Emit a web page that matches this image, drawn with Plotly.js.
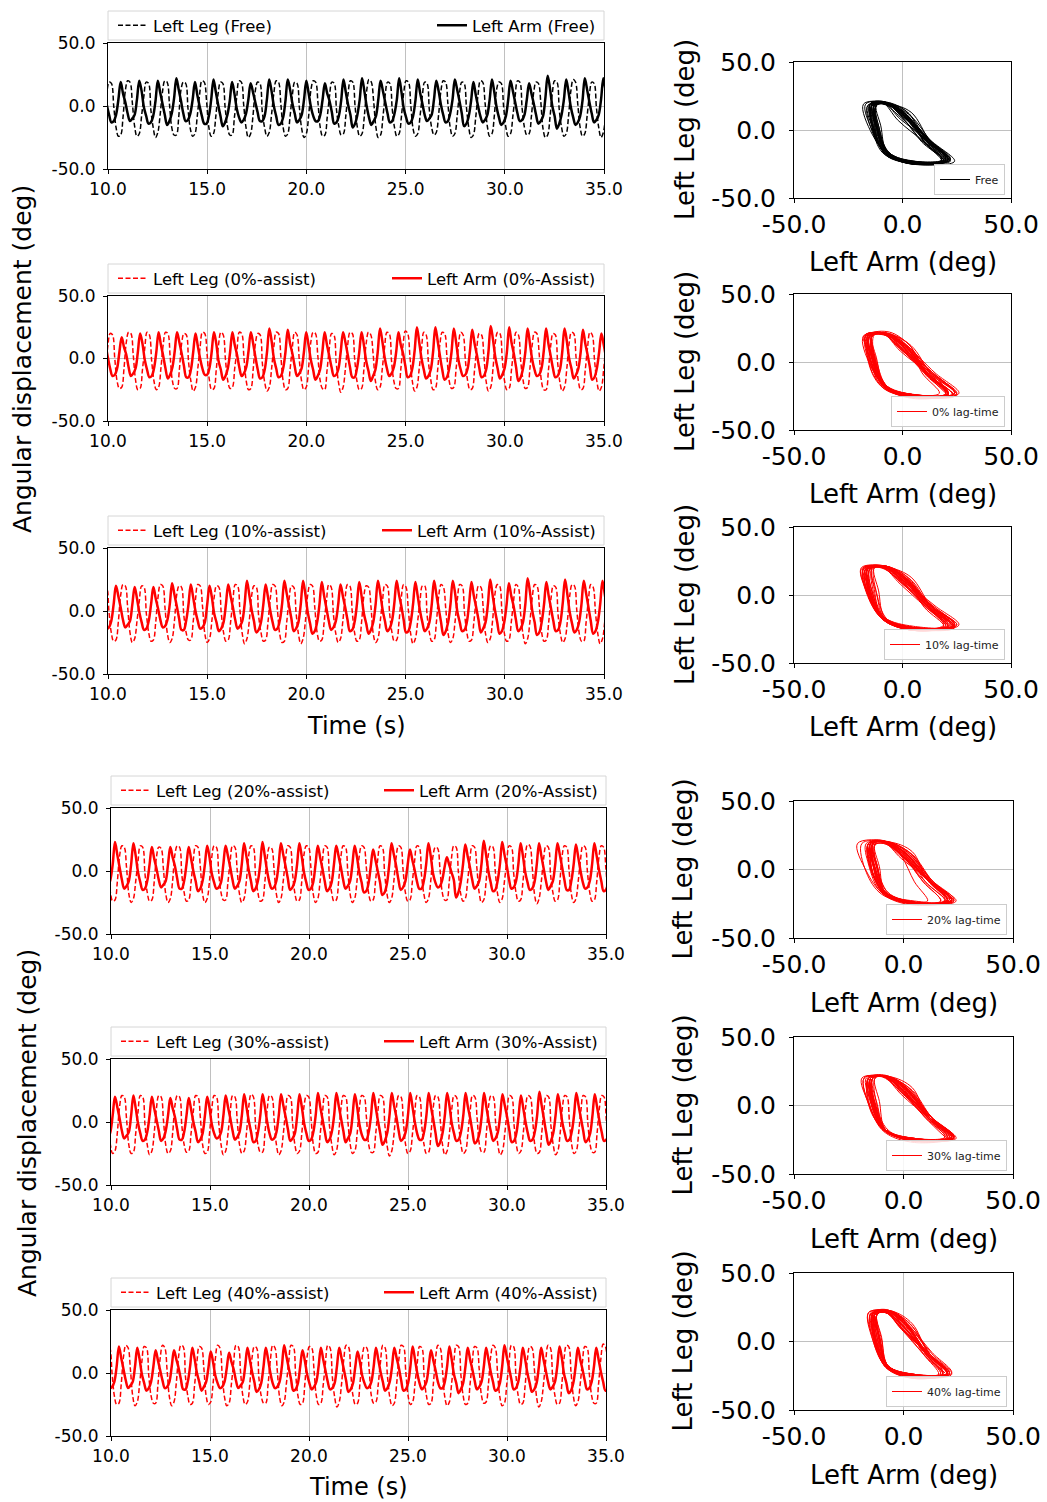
<!DOCTYPE html>
<html><head><meta charset="utf-8">
<script src="https://cdn.plot.ly/plotly-3.0.1.min.js"></script>
<style>body{margin:0;background:#fff}</style>
</head><body><div id="chart" style="width:1047px;height:1502px"></div>
<script>
// ---------------- DATA ----------------
const conditions = ['Free', '0%', '10%', '20%', '30%', '40%'];
const legLegendNames = ['Left Leg (Free)', 'Left Leg (0%-assist)', 'Left Leg (10%-assist)', 'Left Leg (20%-assist)', 'Left Leg (30%-assist)', 'Left Leg (40%-assist)'];
const armLegendNames = ['Left Arm (Free)', 'Left Arm (0%-Assist)', 'Left Arm (10%-Assist)', 'Left Arm (20%-Assist)', 'Left Arm (30%-Assist)', 'Left Arm (40%-Assist)'];
const phaseLegendNames = ['Free', '0% lag-time', '10% lag-time', '20% lag-time', '30% lag-time', '40% lag-time'];
const seriesColors = ['#000000', '#ff0000', '#ff0000', '#ff0000', '#ff0000', '#ff0000'];
// sampling of each recording (s): first sample time and sample interval
const startTimes = [9.704, 9.76, 9.457, 9.27, 9.268, 9.473];
const sampleSteps = [0.11696, 0.11625, 0.1179, 0.1164, 0.1165, 0.1159];
const timeTicks = [10, 15, 20, 25, 30, 35];
const timeTickText = ['10.0', '15.0', '20.0', '25.0', '30.0', '35.0'];
const angleTicks = [-50, 0, 50];
const angleTickText = ['-50.0', '0.0', '50.0'];

// Left arm angle (deg), Free
const armFree = [
20,11,1,-7,-13,-12,-7,5,
19,10,3,-6,-12,-10,-7,5,
20,12,-1,-8,-14,-13,-8,4,
20,11,2,-7,-15,-12,-6,6,
22,13,4,-6,-12,-11,-6,5,
19,9,0,-8,-14,-14,-8,5,
21,11,1,-8,-16,-13,-7,4,
19,10,-2,-9,-13,-11,-6,5,
18,11,3,-5,-12,-12,-8,5,
21,12,0,-8,-15,-14,-9,4,
21,13,2,-6,-13,-11,-7,5,
20,10,-1,-8,-12,-12,-7,5,
18,10,4,-5,-14,-13,-8,4,
21,11,1,-7,-17,-14,-7,5,
22,12,0,-9,-15,-12,-8,5,
20,12,3,-6,-13,-12,-6,5,
22,11,-2,-9,-14,-13,-8,4,
21,11,2,-7,-12,-10,-7,5,
20,12,1,-7,-13,-12,-6,5,
21,13,4,-6,-16,-14,-8,4,
19,9,0,-8,-13,-11,-7,5,
21,11,-1,-9,-15,-13,-8,5,
20,12,3,-6,-12,-11,-7,5,
18,10,2,-7,-14,-12,-8,6,
24,14,0,-8,-18,-14,-7,5,
21,11,-1,-9,-15,-13,-8,4,
22,13,3,-6,-13,-11,-7,5,
22,12,1,-7,-14,-12,-7,5];
// Left leg angle (deg), Free
const legFree = [
-22,-8,10,19,18,0,-17,-24,
-23,-9,12,20,19,3,-16,-24,
-22,-8,8,19,18,-3,-17,-25,
-21,-7,11,20,19,2,-17,-23,
-23,-9,13,19,18,-2,-18,-24,
-22,-8,9,20,19,4,-17,-24,
-22,-8,10,19,18,-1,-16,-23,
-23,-9,7,20,19,1,-17,-25,
-22,-8,12,19,18,-4,-17,-24,
-21,-7,10,20,19,2,-17,-24,
-22,-8,9,19,18,-1,-18,-25,
-22,-8,13,20,19,3,-17,-24,
-23,-9,8,19,18,-3,-16,-23,
-22,-8,10,20,19,0,-17,-24,
-22,-8,12,21,19,4,-17,-25,
-23,-9,9,19,18,-2,-17,-24,
-22,-8,11,20,19,1,-18,-24,
-22,-8,8,19,18,-3,-17,-23,
-21,-7,12,20,19,2,-17,-24,
-22,-8,10,19,18,-1,-17,-25,
-23,-9,9,20,19,3,-16,-24,
-22,-8,13,19,18,0,-17,-24,
-22,-8,8,20,19,-2,-17,-23,
-22,-8,11,19,18,4,-18,-25,
-23,-9,10,20,19,-3,-17,-24,
-22,-8,12,21,19,1,-17,-24,
-22,-8,9,19,18,-1,-17,-25,
-21,-7,11,20,19,2,-17,-24];

// 0% assist
const arm0 = [
20,11,1,-8,-14,-13,-8,5,
17,9,3,-7,-14,-12,-8,5,
20,12,-1,-9,-15,-14,-8,5,
21,11,2,-8,-16,-13,-7,6,
21,13,4,-6,-15,-15,-9,5,
20,10,0,-8,-13,-13,-8,5,
21,12,-2,-9,-17,-14,-8,5,
21,11,3,-7,-14,-12,-7,6,
21,12,1,-9,-16,-15,-9,5,
24,14,0,-8,-15,-14,-8,5,
23,12,4,-6,-14,-12,-8,5,
21,11,-1,-9,-17,-14,-9,5,
21,11,2,-7,-14,-13,-8,6,
21,13,3,-7,-15,-15,-8,5,
21,11,-2,-10,-18,-14,-9,5,
24,14,1,-8,-14,-12,-7,5,
21,11,4,-6,-15,-14,-8,6,
25,13,0,-9,-16,-14,-9,5,
25,14,2,-9,-17,-15,-8,5,
24,13,-1,-9,-14,-13,-8,6,
23,12,3,-7,-15,-14,-9,5,
26,15,1,-8,-16,-13,-8,5,
25,13,4,-7,-18,-15,-8,5,
24,12,-1,-9,-14,-13,-8,6,
24,12,2,-8,-15,-14,-9,5,
24,14,0,-8,-16,-13,-8,5,
23,12,3,-7,-17,-15,-8,5,
20,11,1,-8,-14,-13,-8,5];
const leg0 = [
-23,-9,10,20,19,0,-18,-24,
-23,-8,13,21,20,3,-17,-25,
-24,-9,8,21,19,-2,-18,-25,
-23,-8,11,21,20,2,-18,-24,
-24,-9,12,20,19,-3,-18,-26,
-23,-8,9,21,20,4,-17,-25,
-24,-9,11,21,19,-1,-18,-24,
-23,-8,7,21,20,1,-18,-25,
-24,-9,12,20,19,-4,-19,-26,
-23,-8,10,21,20,2,-18,-25,
-24,-9,9,21,19,-1,-18,-25,
-23,-8,13,21,20,3,-17,-24,
-25,-10,8,20,19,-3,-19,-27,
-23,-8,11,21,20,0,-18,-25,
-24,-9,12,21,19,4,-18,-25,
-23,-8,9,21,20,-2,-18,-24,
-24,-9,11,22,20,1,-18,-26,
-23,-8,8,21,19,-3,-17,-25,
-24,-9,12,21,20,2,-18,-24,
-23,-8,10,21,19,-1,-18,-25,
-24,-9,9,20,19,3,-18,-26,
-23,-8,13,21,20,0,-18,-25,
-24,-9,8,21,19,-2,-17,-24,
-23,-8,11,21,20,4,-18,-25,
-25,-10,10,20,19,-3,-19,-26,
-23,-8,12,21,20,1,-18,-25,
-24,-9,9,21,19,-1,-18,-26,
-23,-8,11,21,20,2,-18,-25];

// 10% assist
const arm10 = [
20,11,1,-8,-14,-13,-8,5,
20,12,3,-7,-13,-11,-8,5,
19,10,-1,-9,-15,-14,-8,5,
19,10,2,-7,-13,-12,-7,5,
22,13,4,-6,-15,-15,-8,5,
21,11,0,-8,-14,-13,-9,5,
20,11,-2,-9,-16,-14,-9,5,
21,12,3,-7,-14,-12,-8,5,
24,13,1,-8,-17,-15,-9,5,
21,11,0,-9,-15,-14,-8,5,
24,14,4,-6,-16,-14,-9,5,
24,13,-1,-10,-18,-16,-9,5,
23,12,2,-8,-15,-13,-8,5,
21,12,3,-7,-16,-15,-9,5,
23,12,-2,-10,-18,-15,-9,5,
24,14,1,-8,-16,-14,-8,6,
24,13,4,-7,-17,-16,-9,5,
23,12,0,-9,-16,-14,-9,5,
24,13,2,-9,-19,-16,-9,5,
24,14,-1,-9,-16,-15,-9,6,
23,12,3,-7,-17,-14,-9,5,
25,13,1,-9,-18,-16,-9,5,
22,12,4,-7,-16,-14,-9,5,
26,15,0,-9,-19,-17,-9,5,
23,12,2,-8,-16,-15,-9,6,
25,13,-1,-10,-17,-15,-9,5,
24,14,3,-8,-18,-16,-9,5,
24,13,1,-8,-16,-15,-9,5];
const leg10 = [
-22,-8,10,20,19,0,-17,-24,
-23,-9,12,21,20,3,-17,-25,
-22,-8,8,20,19,-2,-17,-24,
-23,-9,11,21,20,2,-18,-25,
-22,-8,13,20,19,-3,-17,-23,
-23,-9,9,21,20,4,-18,-25,
-22,-8,11,20,19,-1,-17,-24,
-23,-9,8,21,20,1,-18,-26,
-22,-8,12,20,19,-4,-17,-24,
-23,-9,10,21,20,2,-18,-25,
-24,-9,9,20,19,-1,-18,-26,
-22,-8,13,21,20,3,-17,-24,
-23,-9,8,21,19,-3,-18,-25,
-22,-8,11,21,20,0,-17,-24,
-23,-9,12,20,19,4,-18,-25,
-22,-8,9,21,20,-2,-17,-24,
-23,-9,11,21,19,1,-18,-26,
-22,-8,8,20,20,-3,-17,-24,
-23,-9,12,21,19,2,-18,-25,
-22,-8,10,21,20,-1,-17,-24,
-23,-9,9,20,19,3,-18,-25,
-22,-8,13,21,20,0,-17,-24,
-23,-9,8,21,19,-2,-18,-26,
-22,-8,11,21,20,4,-17,-24,
-23,-9,10,20,19,-3,-18,-25,
-22,-8,12,21,20,1,-17,-24,
-24,-9,9,21,19,-1,-18,-26,
-22,-8,11,21,20,2,-17,-25];

// 20% assist
const arm20 = [
21,11,1,-8,-13,-12,-7,5,
23,13,3,-7,-14,-12,-8,5,
22,12,-1,-9,-15,-14,-8,5,
19,10,2,-7,-13,-11,-8,5,
19,11,4,-6,-14,-14,-8,5,
19,10,0,-8,-16,-14,-8,5,
20,11,-2,-9,-14,-13,-9,5,
20,12,3,-7,-14,-12,-8,5,
22,12,1,-8,-16,-14,-8,5,
23,12,0,-9,-14,-13,-8,5,
22,13,4,-6,-15,-13,-8,5,
22,12,-1,-9,-15,-14,-9,5,
20,11,2,-8,-16,-14,-9,5,
20,12,3,-7,-14,-12,-8,5,
20,11,-1,-9,-17,-16,-10,4,
17,9,0,-9,-19,-17,-10,5,
22,13,4,-7,-15,-13,-8,5,
17,9,1,-8,-14,-14,-8,5,
22,12,-2,-9,-13,-12,-7,3,
11,5,-1,-7,-21,-17,-9,5,
21,12,3,-7,-14,-12,-8,5,
24,13,0,-9,-16,-15,-8,5,
23,13,4,-7,-14,-13,-8,5,
22,12,-1,-9,-15,-14,-9,5,
22,12,2,-8,-15,-12,-8,5,
22,13,3,-7,-15,-15,-8,5,
21,11,0,-9,-14,-13,-8,5,
22,12,1,-8,-16,-15,-9,5];
const leg20 = [
-22,-8,10,20,19,0,-17,-24,
-23,-9,12,20,19,3,-18,-25,
-22,-8,8,20,19,-2,-17,-24,
-23,-9,11,19,18,2,-18,-25,
-22,-8,13,20,19,-3,-17,-24,
-23,-9,9,20,19,4,-18,-25,
-22,-8,11,20,19,-1,-17,-23,
-23,-9,8,20,19,1,-18,-25,
-22,-8,12,20,19,-4,-17,-24,
-23,-9,10,19,18,2,-18,-25,
-22,-8,9,20,19,-1,-17,-24,
-23,-9,13,20,19,3,-18,-25,
-22,-8,8,20,19,-3,-17,-24,
-23,-9,11,20,19,0,-18,-25,
-22,-8,12,20,19,4,-17,-24,
-23,-9,9,20,19,-2,-18,-25,
-22,-8,11,20,19,1,-17,-24,
-23,-9,8,20,19,-3,-18,-25,
-22,-8,12,19,18,2,-17,-23,
-23,-9,10,20,19,-1,-18,-24,
-22,-8,9,20,19,3,-17,-25,
-23,-9,13,20,19,0,-18,-25,
-22,-8,8,20,19,-2,-17,-24,
-23,-9,11,21,20,4,-18,-26,
-22,-8,10,20,19,-3,-17,-24,
-23,-9,12,20,19,1,-18,-25,
-22,-8,9,20,19,-1,-17,-24,
-23,-9,11,20,19,2,-18,-25];

// 30% assist
const arm30 = [
19,10,0,-8,-14,-13,-8,5,
20,12,3,-7,-13,-11,-8,5,
21,11,-1,-9,-15,-14,-8,5,
20,11,2,-7,-15,-13,-7,5,
19,11,4,-6,-14,-14,-8,5,
19,10,0,-8,-16,-14,-9,5,
20,11,-2,-9,-13,-12,-8,5,
21,12,3,-7,-14,-12,-8,5,
22,12,1,-8,-16,-15,-8,5,
22,12,0,-9,-14,-13,-8,5,
22,13,4,-6,-15,-13,-9,5,
22,12,-1,-9,-15,-14,-8,5,
23,12,2,-8,-16,-14,-8,5,
23,13,3,-7,-16,-13,-9,5,
22,12,-2,-10,-14,-14,-8,5,
23,12,1,-9,-18,-15,-9,5,
23,13,4,-7,-15,-13,-8,5,
23,12,0,-9,-14,-14,-8,5,
23,12,2,-9,-19,-16,-9,5,
23,13,-1,-9,-15,-14,-8,5,
23,12,3,-8,-17,-15,-9,5,
23,12,1,-8,-15,-13,-8,5,
22,13,4,-7,-16,-15,-9,5,
21,11,0,-9,-15,-14,-8,5,
24,13,2,-9,-18,-15,-9,5,
22,12,-1,-9,-15,-14,-8,5,
23,13,3,-7,-16,-14,-9,5,
22,12,1,-8,-15,-14,-9,5];
const leg30 = [
-23,-9,10,21,20,0,-18,-25,
-23,-9,12,21,20,3,-18,-25,
-24,-9,8,21,20,-2,-18,-26,
-23,-9,11,21,20,2,-18,-25,
-23,-9,13,21,20,-3,-18,-24,
-23,-9,9,21,20,4,-18,-25,
-24,-9,11,21,20,-1,-18,-26,
-23,-9,8,21,20,1,-18,-25,
-23,-9,12,22,20,-4,-18,-24,
-24,-9,10,21,20,2,-18,-26,
-23,-9,9,21,20,-1,-18,-25,
-23,-9,13,21,20,3,-18,-25,
-24,-9,8,21,20,-3,-18,-26,
-23,-9,11,21,20,0,-18,-25,
-23,-9,12,21,20,4,-18,-24,
-24,-10,9,21,20,-2,-19,-27,
-23,-9,11,21,20,1,-18,-25,
-23,-9,8,21,20,-3,-18,-25,
-24,-9,12,21,20,2,-18,-26,
-23,-9,10,21,20,-1,-18,-25,
-23,-9,9,21,20,3,-18,-24,
-24,-9,13,21,20,0,-18,-26,
-23,-9,8,21,20,-2,-18,-25,
-23,-9,11,21,20,4,-18,-25,
-24,-9,10,21,20,-3,-18,-26,
-23,-9,12,21,20,1,-18,-25,
-23,-9,9,21,20,-1,-18,-24,
-24,-9,11,21,20,2,-18,-26];

// 40% assist
const arm40 = [
19,10,0,-7,-12,-11,-7,5,
21,12,3,-6,-12,-10,-7,5,
20,11,-1,-8,-14,-12,-7,5,
18,10,2,-6,-12,-11,-7,5,
18,11,4,-5,-13,-13,-7,5,
20,11,0,-7,-14,-11,-7,4,
17,9,-2,-8,-12,-11,-7,4,
16,9,3,-6,-12,-10,-7,5,
20,11,1,-7,-15,-13,-8,5,
20,11,0,-8,-12,-11,-7,5,
22,13,4,-5,-14,-13,-8,5,
18,10,-1,-8,-13,-11,-7,5,
20,11,2,-7,-13,-12,-8,5,
20,12,3,-6,-15,-13,-8,5,
17,9,-2,-8,-12,-11,-7,5,
20,11,1,-7,-14,-12,-7,5,
20,12,4,-6,-14,-13,-8,5,
21,11,0,-8,-13,-11,-7,5,
18,10,2,-7,-12,-12,-7,5,
21,11,-1,-8,-16,-13,-8,5,
20,11,3,-6,-13,-11,-7,5,
20,11,1,-7,-14,-13,-8,5,
22,13,4,-5,-13,-12,-7,5,
20,11,0,-8,-15,-13,-8,5,
20,11,2,-7,-13,-11,-7,5,
21,12,-1,-8,-16,-14,-8,5,
20,11,3,-6,-13,-12,-7,5,
20,11,1,-7,-14,-13,-8,5];
const leg40 = [
-23,-9,11,22,20,0,-18,-25,
-24,-9,13,22,20,3,-18,-26,
-23,-9,9,21,20,-2,-18,-24,
-24,-9,12,22,20,2,-19,-26,
-23,-8,13,22,21,-3,-18,-25,
-24,-9,9,21,20,4,-18,-25,
-23,-9,11,22,20,-1,-19,-26,
-24,-9,8,22,21,1,-18,-25,
-23,-9,12,21,20,-4,-18,-24,
-24,-9,10,22,20,2,-19,-26,
-23,-8,9,22,21,-1,-18,-25,
-24,-9,13,21,20,3,-18,-25,
-24,-10,8,22,20,-3,-19,-27,
-23,-9,11,22,21,0,-18,-25,
-24,-9,12,21,20,4,-18,-24,
-23,-9,9,22,20,-2,-19,-26,
-24,-9,11,22,21,1,-18,-25,
-23,-9,8,21,20,-3,-18,-25,
-24,-9,12,22,20,2,-19,-26,
-23,-8,10,22,21,-1,-18,-25,
-24,-9,9,21,20,3,-18,-24,
-23,-9,13,22,20,0,-19,-26,
-24,-9,8,22,21,-2,-18,-25,
-24,-10,11,21,20,4,-19,-27,
-23,-9,10,22,20,-3,-18,-25,
-24,-9,12,22,21,1,-18,-26,
-23,-9,9,21,20,-1,-18,-24,
-24,-9,11,23,21,2,-19,-26];

const armSeries = [armFree, arm0, arm10, arm20, arm30, arm40];
const legSeries = [legFree, leg0, leg10, leg20, leg30, leg40];

// ---------------- LAYOUT ----------------
const W = 1047, H = 1502;
const FONT = 'DejaVu Sans, Liberation Sans, sans-serif';
const px = x => x / W;
const py = y => 1 - y / H;
// [left, right, top, bottom] in pixels
const leftBoxes = [[108,604,43,169],[108,604,296,421],[108,604,548,674],[111,606,808,934],[111,606,1059,1185],[111,606,1310,1436]];
const rightBoxes = [[794,1011,62,198],[794,1011,294,430],[794,1011,527,663],[794,1013,801,938],[794,1013,1037,1174],[794,1013,1273,1410]];

const legendId = n => n === 1 ? 'legend' : 'legend' + n;
const axId = (c, n) => n === 1 ? c : c + n;
const axKey = (c, n) => n === 1 ? c + 'axis' : c + 'axis' + n;

const traces = [];
const layout = {
  width: W, height: H,
  margin: {l: 0, r: 0, t: 0, b: 0},
  paper_bgcolor: '#ffffff', plot_bgcolor: '#ffffff',
  font: {family: FONT, color: '#000'},
  showlegend: true,
  shapes: [], annotations: []
};

function axisBase(dom, range, ticks, tickText, fontSize, standoff, anchor) {
  return {
    domain: dom, range: range, tickmode: 'array', tickvals: ticks, ticktext: tickText,
    showgrid: true, gridcolor: '#b0b0b0', gridwidth: 0.8,
    zeroline: false, showline: true, mirror: true, linecolor: '#000', linewidth: 1,
    ticks: 'outside', ticklen: 4, tickwidth: 1, tickcolor: '#000',
    tickfont: {size: fontSize, family: FONT, color: '#000'},
    ticklabelstandoff: standoff, anchor: anchor, fixedrange: true
  };
}

for (let i = 0; i < 6; i++) {
  const arm = armSeries[i], leg = legSeries[i];
  const t = arm.map((_, k) => startTimes[i] + k * sampleSteps[i]);
  const color = seriesColors[i];
  const nL = i + 1, nR = i + 7;
  const lgLeg = legendId(3 * i + 1), lgArm = legendId(3 * i + 2), lgPh = legendId(3 * i + 3);

  traces.push({x: t, y: leg, xaxis: axId('x', nL), yaxis: axId('y', nL), type: 'scatter', mode: 'lines',
    name: legLegendNames[i], legend: lgLeg, hoverinfo: 'skip',
    line: {color: color, width: 1.5, dash: '5px,2.5px', shape: 'spline'}});
  traces.push({x: t, y: arm, xaxis: axId('x', nL), yaxis: axId('y', nL), type: 'scatter', mode: 'lines',
    name: armLegendNames[i], legend: lgArm, hoverinfo: 'skip',
    line: {color: color, width: 2.5, shape: 'spline'}});
  traces.push({x: arm, y: leg, xaxis: axId('x', nR), yaxis: axId('y', nR), type: 'scatter', mode: 'lines',
    name: phaseLegendNames[i], legend: lgPh, hoverinfo: 'skip',
    line: {color: color, width: 1, shape: 'spline'}});

  const [l, r, tp, bt] = leftBoxes[i];
  layout[axKey('x', nL)] = axisBase([px(l), px(r)], [10, 35], timeTicks, timeTickText, 17, 1, axId('y', nL));
  layout[axKey('y', nL)] = axisBase([py(bt), py(tp)], [-50, 50], angleTicks, angleTickText, 17, 4, axId('x', nL));

  const [rl, rr, rt, rb] = rightBoxes[i];
  layout[axKey('x', nR)] = axisBase([px(rl), px(rr)], [-50, 50], angleTicks, angleTickText, 25, 0, axId('y', nR));
  layout[axKey('y', nR)] = axisBase([py(rb), py(rt)], [-50, 50], angleTicks, angleTickText, 25, 8, axId('x', nR));

  // legend frame for time series panel
  layout.shapes.push({type: 'rect', xref: 'paper', yref: 'paper',
    x0: px(l), x1: px(r), y0: py(tp - 3), y1: py(tp - 32),
    line: {color: '#d6d6d6', width: 1}, fillcolor: '#ffffff', layer: 'below'});
  const lgY = py(tp - 17.5);
  layout[lgLeg] = {x: px(l + 5), xanchor: 'left', y: lgY, yanchor: 'middle', orientation: 'h',
    bgcolor: 'rgba(0,0,0,0)', borderwidth: 0, font: {size: 16.5, family: FONT, color: '#000'}};
  layout[lgArm] = {x: px(r - 3), xanchor: 'right', y: lgY, yanchor: 'middle', orientation: 'h',
    bgcolor: 'rgba(0,0,0,0)', borderwidth: 0, font: {size: 16.5, family: FONT, color: '#000'}};
  layout[lgPh] = {x: px(rr - 6), xanchor: 'right', y: py(rb - 3), yanchor: 'bottom', orientation: 'v',
    bgcolor: 'rgba(255,255,255,0.85)', bordercolor: '#cccccc', borderwidth: 1,
    font: {size: 11, family: FONT, color: '#222'}};

  // right panel axis titles
  layout.annotations.push({text: 'Left Leg (deg)', xref: 'paper', yref: 'paper',
    x: px(i < 3 ? 685 : 682), y: py((rt + rb) / 2), textangle: -90, showarrow: false,
    xanchor: 'center', yanchor: 'middle', font: {size: 26, family: FONT, color: '#000'}});
  const armTitleY = [262, 494, 727, 1003, 1239, 1475][i];
  layout.annotations.push({text: 'Left Arm (deg)', xref: 'paper', yref: 'paper',
    x: px((rl + rr) / 2), y: py(armTitleY), showarrow: false,
    xanchor: 'center', yanchor: 'middle', font: {size: 26, family: FONT, color: '#000'}});
}

// time titles and shared y titles
[[356, 726], [358, 1487]].forEach(([x, y]) => layout.annotations.push({text: 'Time (s)', xref: 'paper', yref: 'paper',
  x: px(x), y: py(y), showarrow: false, xanchor: 'center', yanchor: 'middle', font: {size: 24, family: FONT, color: '#000'}}));
[[22, 359], [27, 1123]].forEach(([x, y]) => layout.annotations.push({text: 'Angular displacement (deg)', xref: 'paper', yref: 'paper',
  x: px(x), y: py(y), textangle: -90, showarrow: false, xanchor: 'center', yanchor: 'middle', font: {size: 25, family: FONT, color: '#000'}}));

Plotly.newPlot('chart', traces, layout, {staticPlot: true, displayModeBar: false});
</script>
</body></html>
